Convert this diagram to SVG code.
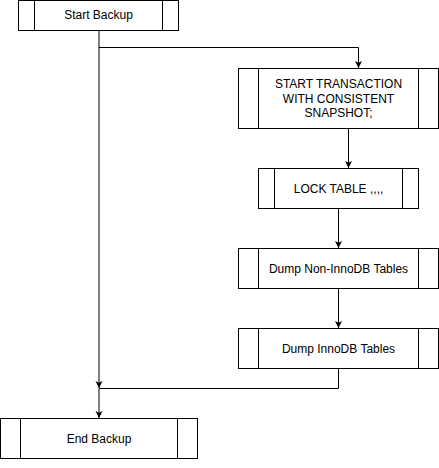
<svg xmlns="http://www.w3.org/2000/svg" width="439" height="468" viewBox="0 0 439 468">
<style>
.box{fill:#fff;stroke:#000;stroke-width:1}
.div{stroke:#000;stroke-width:1;fill:none}
.lbl{font-family:"Liberation Sans",Arial,sans-serif;font-size:12px;fill:#000;text-anchor:middle}
.edge{fill:none;stroke:#000;stroke-width:1;marker-end:url(#arr)}
.seg{fill:none;stroke:#000;stroke-width:1}
</style>
<defs>
<marker id="arr" markerWidth="8" markerHeight="8" refX="7" refY="3.5" orient="auto" markerUnits="userSpaceOnUse">
<path d="M0,0 L7,3.5 L0,7 L1.8,3.5 z" fill="#000"/>
</marker>
</defs>
<rect width="439" height="468" fill="#fff"/>
<g id="connectors">
<path class="edge" d="M99,30.5 L99,388"/>
<path class="edge" d="M99,47.5 L358.5,47.5 L358.5,68"/>
<path class="edge" d="M348.5,128.5 L348.5,168"/>
<path class="edge" d="M338.5,208.5 L338.5,248"/>
<path class="edge" d="M338.5,288.5 L338.5,328"/>
<path class="edge" d="M338.5,368.5 L338.5,388.5 L99,388.5 L99,418"/>
</g>
<g id="start-backup">
<rect class="box" x="18.5" y="0.5" width="160" height="30"/>
<path class="div" d="M34.5,0.5 V30.5 M162.5,0.5 V30.5"/>
<text class="lbl" x="98.5" y="19.3">Start Backup</text>
</g>
<g id="start-transaction">
<rect class="box" x="238.5" y="68.5" width="200" height="60"/>
<path class="div" d="M258.5,68.5 V128.5 M418.5,68.5 V128.5"/>
<text class="lbl" x="338.5" y="88.2">START TRANSACTION</text>
<text class="lbl" x="338.5" y="102.6">WITH CONSISTENT</text>
<text class="lbl" x="338.5" y="117">SNAPSHOT;</text>
</g>
<g id="lock-table">
<rect class="box" x="258.5" y="168.5" width="160" height="40"/>
<path class="div" d="M274.5,168.5 V208.5 M402.5,168.5 V208.5"/>
<text class="lbl" x="338.5" y="192.8">LOCK TABLE ,,,,</text>
</g>
<g id="dump-non-innodb">
<rect class="box" x="238.5" y="248.5" width="200" height="40"/>
<path class="div" d="M258.5,248.5 V288.5 M418.5,248.5 V288.5"/>
<text class="lbl" x="338.5" y="272.8">Dump Non-InnoDB Tables</text>
</g>
<g id="dump-innodb">
<rect class="box" x="238.5" y="328.5" width="200" height="40"/>
<path class="div" d="M258.5,328.5 V368.5 M418.5,328.5 V368.5"/>
<text class="lbl" x="338.5" y="352.8">Dump InnoDB Tables</text>
</g>
<g id="end-backup">
<rect class="box" x="0.5" y="418.5" width="197" height="40"/>
<path class="div" d="M20.5,418.5 V458.5 M177.5,418.5 V458.5"/>
<text class="lbl" x="99" y="442.8">End Backup</text>
</g>
</svg>
